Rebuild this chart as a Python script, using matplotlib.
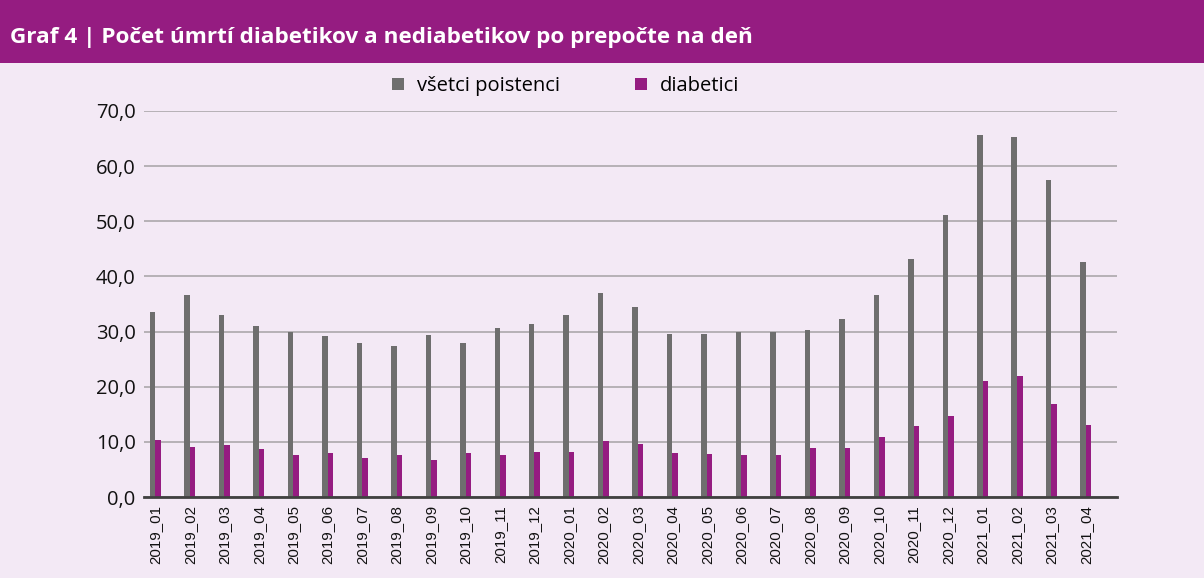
#!/usr/bin/env python3
import numpy as np
import matplotlib
matplotlib.use("Agg")
import matplotlib.pyplot as plt
from matplotlib.patches import Patch, Rectangle

# months and daily death counts
months = ["2019_01", "2019_02", "2019_03", "2019_04", "2019_05", "2019_06",
          "2019_07", "2019_08", "2019_09", "2019_10", "2019_11", "2019_12",
          "2020_01", "2020_02", "2020_03", "2020_04", "2020_05", "2020_06",
          "2020_07", "2020_08", "2020_09", "2020_10", "2020_11", "2020_12",
          "2021_01", "2021_02", "2021_03", "2021_04"]
vsetci = [33.6, 36.7, 33.0, 31.0, 29.9, 29.2, 27.9, 27.4, 29.4, 27.9, 30.7, 31.4,
          33.0, 37.0, 34.5, 29.6, 29.6, 29.9, 29.9, 30.3, 32.3, 36.7, 43.2, 51.2,
          65.7, 65.3, 57.5, 42.6]
diabetici = [10.3, 9.1, 9.4, 8.7, 7.6, 8.0, 7.1, 7.6, 6.7, 8.0, 7.6, 8.2,
             8.2, 10.2, 9.6, 8.0, 7.8, 7.6, 7.6, 8.9, 8.9, 10.9, 12.9, 14.7,
             21.1, 22.0, 16.9, 13.1]
yticks = [0, 10, 20, 30, 40, 50, 60, 70]

bg = "#F3E9F5"
purple = "#951C81"
gray = "#6E6E6E"

fig = plt.figure(figsize=(12.04, 5.78), dpi=100, facecolor=bg)
ax = fig.add_axes([0.1196, 0.1401, 0.8081, 0.6679])
ax.set_facecolor(bg)

# header band
fig.patches.append(Rectangle((0, 1 - 63/578), 1, 63/578, transform=fig.transFigure,
                             facecolor=purple, edgecolor="none", zorder=0))
fig.text(10/1204, 1 - 38/578, "Graf 4 | Počet úmrtí diabetikov a nediabetikov po prepočte na deň",
         color="white", fontsize=16.2, fontweight="bold", family="Open Sans",
         va="center", ha="left")

x = np.arange(len(months))
w = 0.16
ax.bar(x - w/2, vsetci, width=w, color=gray, zorder=3)
ax.bar(x + w/2, diabetici, width=w, color=purple, zorder=3)

ax.set_xlim(-0.33, 27.9)
ax.set_ylim(0, 70)
ax.set_yticks(yticks)
ax.set_yticklabels([f"{v:.1f}".replace(".", ",") for v in yticks],
                   fontsize=14.5, family="Open Sans", color="#111111")
ax.set_xticks(x)
ax.set_xticklabels(months, rotation=90, fontsize=10.8, family="Liberation Sans",
                   color="#111111")
ax.tick_params(axis="both", length=0)
ax.tick_params(axis="y", pad=6)
ax.tick_params(axis="x", pad=6)
ax.grid(axis="y", color="#ABA7AB", linewidth=1.2, zorder=0)
for s in ["left", "right", "top"]:
    ax.spines[s].set_visible(False)
ax.spines["bottom"].set_color("#404040")
ax.spines["bottom"].set_linewidth(2)
ax.spines["bottom"].set_zorder(4)

handles = [Patch(facecolor=gray, label="všetci poistenci"),
           Patch(facecolor=purple, label="diabetici")]
fig.legend(handles=handles, loc="center", bbox_to_anchor=(0.4697, 1 - 86/578),
           ncol=2, frameon=False, handlelength=0.6, handleheight=0.6,
           handletextpad=0.65, columnspacing=3.7,
           prop={"family": "Open Sans", "size": 14.5})

fig.savefig("out.png", dpi=100, facecolor=bg)
